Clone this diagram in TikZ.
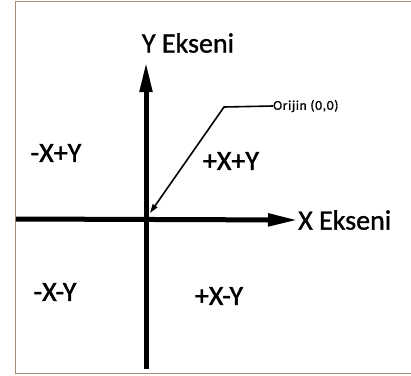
\documentclass[tikz,border=0pt]{standalone}
\usepackage{fontspec}
\setmainfont{Carlito}
\newfontfamily\heavy{Carlito}[FakeBold=1.5]
\newfontfamily\medheavy{Carlito}[FakeBold=1.0]
\newfontfamily\smallheavy{Carlito}[FakeBold=0.8,LetterSpace=5]
\usetikzlibrary{arrows.meta}
\definecolor{framec}{HTML}{A08C78}
\tikzset{
  axis/.style={line width=5pt, -{Triangle[length=30pt,width=12pt]}},
  pointer/.style={line width=1.6pt, -{Triangle[length=9pt,width=5.5pt]}},
  biglabel/.style={font=\medheavy\fontsize{28}{30}\selectfont, inner sep=0pt},
  quad/.style={font=\heavy\fontsize{28}{29}\selectfont, inner sep=0pt},
  smalllabel/.style={font=\smallheavy\fontsize{13.5}{14}\selectfont, inner sep=0pt},
}
\begin{document}
\begin{tikzpicture}[x=1pt,y=-1pt]
\useasboundingbox (0,0) rectangle (411,375);
\fill[white] (0,0) rectangle (411,375);
% frame
\draw[framec, line width=1.6pt] (411,1.5) -- (15.5,1.5) -- (15.5,373.5) -- (411,373.5);
% coordinates
\coordinate (ytop) at (146,62);
\coordinate (ybot) at (146,369);
\coordinate (xleft) at (16,219);
\coordinate (org) at (150,213);
\coordinate (bend) at (224,107);
% labels
\node[biglabel, anchor=south] (ylab) at (188,53) {Y Ekseni};
\node[biglabel, anchor=west] (xlab) at (298,220) {X Ekseni};
\node[smalllabel, anchor=west] (orlab) at (273,106) {Orijin (0,0)};
\node[quad] (q2) at (56,153) {-X+Y};
\node[quad] (q1) at (231,161) {+X+Y};
\node[quad] (q3) at (55,292) {-X-Y};
\node[quad] (q4) at (219,296) {+X-Y};
% axes
\draw[axis] (ybot) -- (ytop);
\draw[axis] (xleft) -- (xlab.west);
% pointer
\draw[pointer] (orlab.west) -- (bend) -- (org);
\end{tikzpicture}
\end{document}
